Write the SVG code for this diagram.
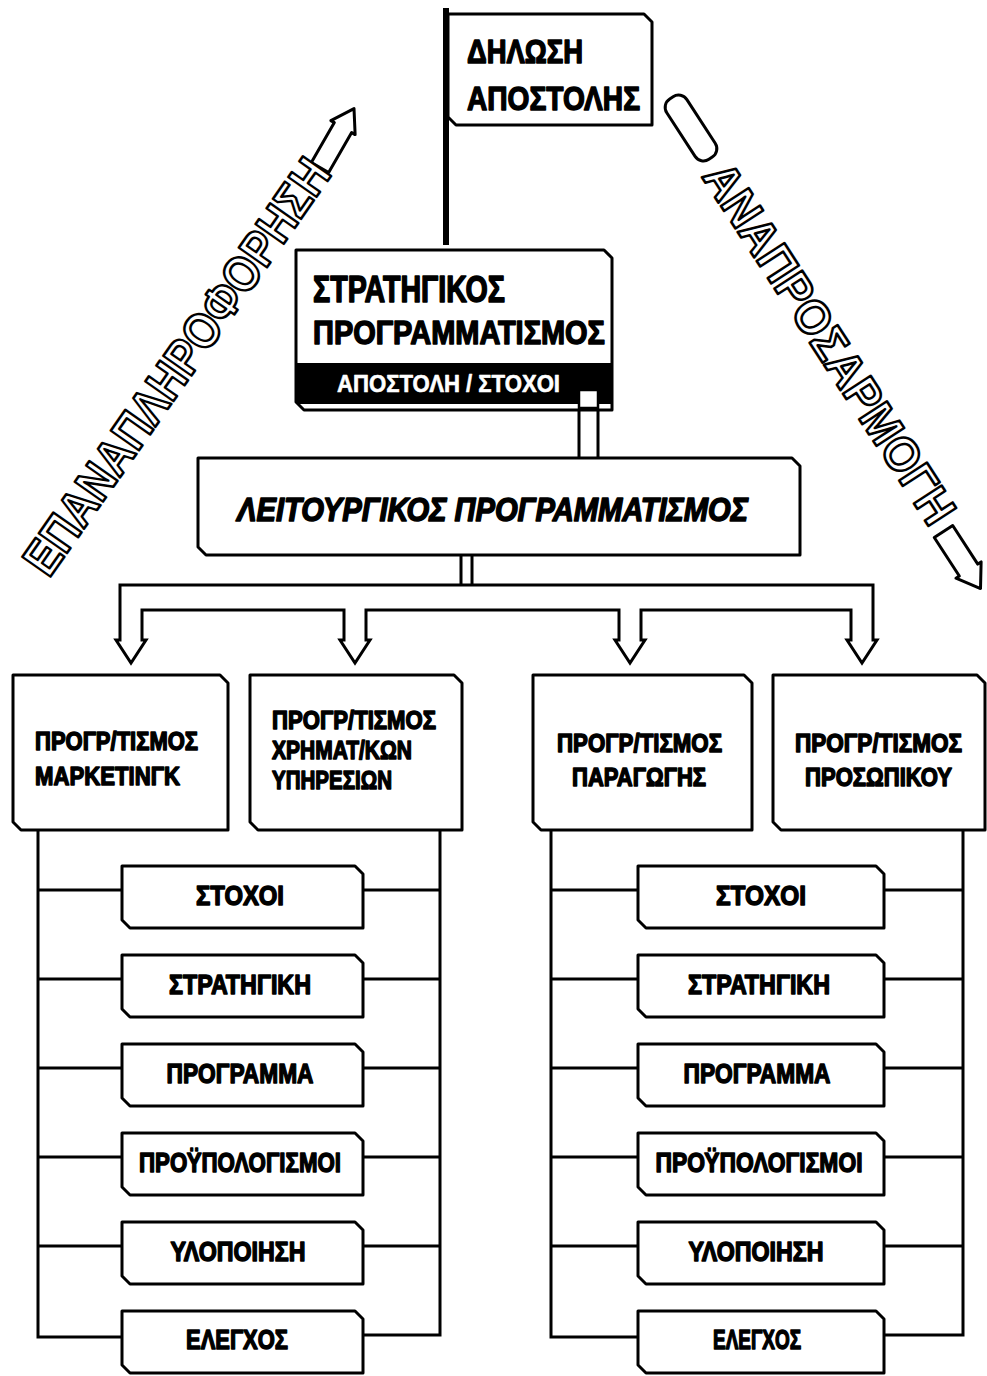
<svg xmlns="http://www.w3.org/2000/svg" width="987" height="1376" viewBox="0 0 987 1376">
  <style>
    .box { fill: #fff; stroke: #000; stroke-width: 3; stroke-linejoin: round; }
    .wire { fill: none; stroke: #000; stroke-width: 3; }
    .pipe { fill: #fff; stroke: #000; stroke-width: 3; stroke-linejoin: miter; }
    .hollow { fill: #fff; stroke: #000; stroke-width: 3; stroke-linejoin: round; }
    .t { font-family: "Liberation Sans", "DejaVu Sans", sans-serif; font-weight: bold; fill: #000; stroke: #000; stroke-width: 1.5; stroke-linejoin: round; }
    .ti { font-style: italic; }
    .inv { fill: #fff; stroke: #fff; stroke-width: 0.6; }
    .outline { font-family: "Liberation Sans", "DejaVu Sans", sans-serif; font-weight: bold; fill: #fff; stroke: #000; stroke-width: 2.6; stroke-linejoin: round; }
  </style>
  <rect width="987" height="1376" fill="#fff"/>

  <!-- connectors -->
  <g id="connectors">
    <!-- pipe from strategic planning down to operational planning -->
    <rect class="pipe" x="579" y="390" width="19" height="70"/>
    <!-- operational planning to distribution bar -->
    <rect class="pipe" x="461" y="553" width="11" height="34"/>
    <!-- distribution bar with four downward arrows -->
    <path class="pipe" d="M120,585 H873 V640 H877 L862,663 L847,640 H851 V610 H641 V640 H645 L630,663 L615,640 H619 V610 H366 V640 H370 L355,663 L340,640 H344 V610 H142 V640 H146 L131,663 L116,640 H120 Z"/>
    <!-- left group buses -->
    <path class="wire" d="M38,830 V1337 H122"/>
    <path class="wire" d="M440,830 V1335 H363"/>
    <path class="wire" d="M38,890 H122 M38,979 H122 M38,1068 H122 M38,1157 H122 M38,1246 H122"/>
    <path class="wire" d="M363,890 H440 M363,979 H440 M363,1068 H440 M363,1157 H440 M363,1246 H440"/>
    <!-- right group buses -->
    <path class="wire" d="M551,830 V1337 H638"/>
    <path class="wire" d="M963,830 V1335 H884"/>
    <path class="wire" d="M551,890 H638 M551,979 H638 M551,1068 H638 M551,1157 H638 M551,1246 H638"/>
    <path class="wire" d="M884,890 H963 M884,979 H963 M884,1068 H963 M884,1157 H963 M884,1246 H963"/>
    <!-- feedback arrow (left) -->
    <g transform="translate(337,138) rotate(-60)">
      <path class="hollow" d="M-34,-10 H12 V-14 L34,0 L12,14 V10 H-34 Z"/>
    </g>
    <!-- adjustment arrow (right) -->
    <g transform="translate(691,128) rotate(57)">
      <rect class="hollow" x="-36" y="-12" width="72" height="24" rx="10"/>
    </g>
    <g transform="translate(962,560) rotate(57)">
      <path class="hollow" d="M-34,-11 H12 V-15 L34,0 L12,15 V11 H-34 Z"/>
    </g>
  </g>

  <!-- side labels -->
  <g id="label-feedback">
    <text class="outline" font-size="50" text-anchor="middle" textLength="495" lengthAdjust="spacingAndGlyphs" transform="translate(176,366) rotate(-55)" y="18">ΕΠΑΝΑΠΛΗΡΟΦΟΡΗΣΗ</text>
  </g>
  <g id="label-adjustment">
    <text class="outline" font-size="48" text-anchor="middle" textLength="420" lengthAdjust="spacingAndGlyphs" transform="translate(830,343) rotate(57)" y="17">ΑΝΑΠΡΟΣΑΡΜΟΓΗ</text>
  </g>

  <!-- mission statement flag -->
  <g id="mission">
    <path class="box" d="M448,14 H644 L652,22 V125 H456 L448,117 Z"/>
    <line x1="446" y1="8" x2="446" y2="245" stroke="#000" stroke-width="6"/>
    <text class="t" x="467" y="63" font-size="34" textLength="116" lengthAdjust="spacingAndGlyphs">ΔΗΛΩΣΗ</text>
    <text class="t" x="467" y="110" font-size="34" textLength="173" lengthAdjust="spacingAndGlyphs">ΑΠΟΣΤΟΛΗΣ</text>
  </g>

  <!-- strategic planning -->
  <g id="strategic">
    <path class="box" d="M296,250 H604 L612,258 V410 H304 L296,402 Z"/>
    <rect x="297" y="363" width="314" height="41" fill="#000"/>
    <rect x="579" y="390" width="19" height="18" fill="#fff" stroke="#000" stroke-width="2.5"/>
    <text class="t" x="313" y="302" font-size="36" textLength="192" lengthAdjust="spacingAndGlyphs">ΣΤΡΑΤΗΓΙΚΟΣ</text>
    <text class="t" x="313" y="344" font-size="34" textLength="292" lengthAdjust="spacingAndGlyphs">ΠΡΟΓΡΑΜΜΑΤΙΣΜΟΣ</text>
    <text class="t inv" x="337" y="392" font-size="24" textLength="223" lengthAdjust="spacingAndGlyphs">ΑΠΟΣΤΟΛΗ / ΣΤΟΧΟΙ</text>
  </g>

  <!-- operational planning -->
  <g id="operational">
    <path class="box" d="M198,458 H792 L800,466 V555 H206 L198,547 Z"/>
    <text class="t ti" x="237" y="521" font-size="33" textLength="511" lengthAdjust="spacingAndGlyphs">ΛΕΙΤΟΥΡΓΙΚΟΣ ΠΡΟΓΡΑΜΜΑΤΙΣΜΟΣ</text>
  </g>

  <!-- functional plans -->
  <g id="plan-marketing">
    <path class="box" d="M13,675 H220 L228,683 V830 H21 L13,822 Z"/>
    <text class="t" x="35" y="750" font-size="26" textLength="163" lengthAdjust="spacingAndGlyphs">ΠΡΟΓΡ/ΤΙΣΜΟΣ</text>
    <text class="t" x="35" y="785" font-size="26" textLength="145" lengthAdjust="spacingAndGlyphs">ΜΑΡΚΕΤΙΝΓΚ</text>
  </g>
  <g id="plan-finance">
    <path class="box" d="M250,675 H454 L462,683 V830 H258 L250,822 Z"/>
    <text class="t" x="272" y="729" font-size="26" textLength="164" lengthAdjust="spacingAndGlyphs">ΠΡΟΓΡ/ΤΙΣΜΟΣ</text>
    <text class="t" x="272" y="759" font-size="26" textLength="140" lengthAdjust="spacingAndGlyphs">ΧΡΗΜΑΤ/ΚΩΝ</text>
    <text class="t" x="272" y="789" font-size="26" textLength="120" lengthAdjust="spacingAndGlyphs">ΥΠΗΡΕΣΙΩΝ</text>
  </g>
  <g id="plan-production">
    <path class="box" d="M533,675 H744 L752,683 V830 H541 L533,822 Z"/>
    <text class="t" x="557" y="752" font-size="26" textLength="165" lengthAdjust="spacingAndGlyphs">ΠΡΟΓΡ/ΤΙΣΜΟΣ</text>
    <text class="t" x="572" y="786" font-size="26" textLength="134" lengthAdjust="spacingAndGlyphs">ΠΑΡΑΓΩΓΗΣ</text>
  </g>
  <g id="plan-personnel">
    <path class="box" d="M773,675 H977 L985,683 V830 H781 L773,822 Z"/>
    <text class="t" x="795" y="752" font-size="26" textLength="167" lengthAdjust="spacingAndGlyphs">ΠΡΟΓΡ/ΤΙΣΜΟΣ</text>
    <text class="t" x="805" y="786" font-size="26" textLength="147" lengthAdjust="spacingAndGlyphs">ΠΡΟΣΩΠΙΚΟΥ</text>
  </g>

  <!-- left step list -->
  <g id="left-goals">
    <path class="box" d="M122,866 H355 L363,874 V928 H130 L122,920 Z"/>
    <text class="t" x="240" y="905" font-size="28" text-anchor="middle" textLength="88" lengthAdjust="spacingAndGlyphs">ΣΤΟΧΟΙ</text>
  </g>
  <g id="left-strategy">
    <path class="box" d="M122,955 H355 L363,963 V1017 H130 L122,1009 Z"/>
    <text class="t" x="240" y="994" font-size="28" text-anchor="middle" textLength="142" lengthAdjust="spacingAndGlyphs">ΣΤΡΑΤΗΓΙΚΗ</text>
  </g>
  <g id="left-programme">
    <path class="box" d="M122,1044 H355 L363,1052 V1106 H130 L122,1098 Z"/>
    <text class="t" x="240" y="1083" font-size="28" text-anchor="middle" textLength="147" lengthAdjust="spacingAndGlyphs">ΠΡΟΓΡΑΜΜΑ</text>
  </g>
  <g id="left-budgets">
    <path class="box" d="M122,1133 H355 L363,1141 V1195 H130 L122,1187 Z"/>
    <text class="t" x="240" y="1172" font-size="28" text-anchor="middle" textLength="202" lengthAdjust="spacingAndGlyphs">ΠΡΟΫΠΟΛΟΓΙΣΜΟΙ</text>
  </g>
  <g id="left-implementation">
    <path class="box" d="M122,1222 H355 L363,1230 V1284 H130 L122,1276 Z"/>
    <text class="t" x="238" y="1261" font-size="28" text-anchor="middle" textLength="135" lengthAdjust="spacingAndGlyphs">ΥΛΟΠΟΙΗΣΗ</text>
  </g>
  <g id="left-control">
    <path class="box" d="M122,1311 H355 L363,1319 V1373 H130 L122,1365 Z"/>
    <text class="t" x="237" y="1349" font-size="28" text-anchor="middle" textLength="102" lengthAdjust="spacingAndGlyphs">ΕΛΕΓΧΟΣ</text>
  </g>

  <!-- right step list -->
  <g id="right-goals">
    <path class="box" d="M638,866 H876 L884,874 V928 H646 L638,920 Z"/>
    <text class="t" x="761" y="905" font-size="28" text-anchor="middle" textLength="90" lengthAdjust="spacingAndGlyphs">ΣΤΟΧΟΙ</text>
  </g>
  <g id="right-strategy">
    <path class="box" d="M638,955 H876 L884,963 V1017 H646 L638,1009 Z"/>
    <text class="t" x="759" y="994" font-size="28" text-anchor="middle" textLength="142" lengthAdjust="spacingAndGlyphs">ΣΤΡΑΤΗΓΙΚΗ</text>
  </g>
  <g id="right-programme">
    <path class="box" d="M638,1044 H876 L884,1052 V1106 H646 L638,1098 Z"/>
    <text class="t" x="757" y="1083" font-size="28" text-anchor="middle" textLength="147" lengthAdjust="spacingAndGlyphs">ΠΡΟΓΡΑΜΜΑ</text>
  </g>
  <g id="right-budgets">
    <path class="box" d="M638,1133 H876 L884,1141 V1195 H646 L638,1187 Z"/>
    <text class="t" x="759" y="1172" font-size="28" text-anchor="middle" textLength="207" lengthAdjust="spacingAndGlyphs">ΠΡΟΫΠΟΛΟΓΙΣΜΟΙ</text>
  </g>
  <g id="right-implementation">
    <path class="box" d="M638,1222 H876 L884,1230 V1284 H646 L638,1276 Z"/>
    <text class="t" x="756" y="1261" font-size="28" text-anchor="middle" textLength="135" lengthAdjust="spacingAndGlyphs">ΥΛΟΠΟΙΗΣΗ</text>
  </g>
  <g id="right-control">
    <path class="box" d="M638,1311 H876 L884,1319 V1373 H646 L638,1365 Z"/>
    <text class="t" x="757" y="1349" font-size="28" text-anchor="middle" textLength="88" lengthAdjust="spacingAndGlyphs">ΕΛΕΓΧΟΣ</text>
  </g>
</svg>
